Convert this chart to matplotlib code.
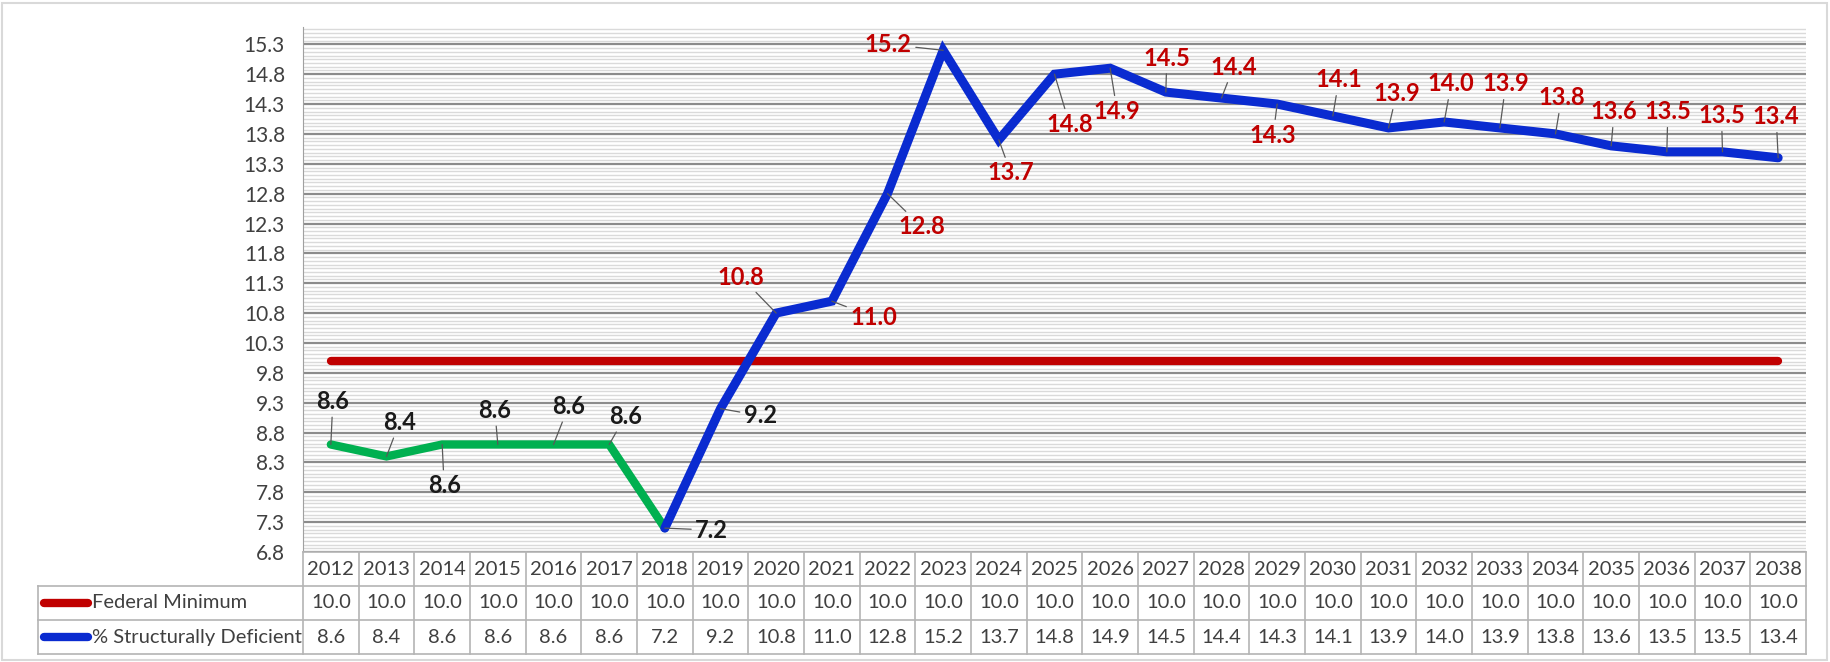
import numpy as np
import matplotlib
matplotlib.use("Agg")
import matplotlib.pyplot as plt
from matplotlib.patches import Rectangle

plt.rcParams['font.family'] = ['Lato', 'DejaVu Sans']

# Data
years = list(range(2012, 2039))
federal_minimum = [10.0] * 27
structurally_deficient = [8.6, 8.4, 8.6, 8.6, 8.6, 8.6, 7.2, 9.2, 10.8, 11.0, 12.8, 15.2, 13.7,
                          14.8, 14.9, 14.5, 14.4, 14.3, 14.1, 13.9, 14.0, 13.9, 13.8, 13.6, 13.5,
                          13.5, 13.4]
series_names = ['Federal Minimum', '% Structurally Deficient']
y_ticks = np.arange(6.8, 15.31, 0.5)

# label offsets in pixels (dx, dy, up is positive)
label_offsets = [(2, 43), (13, 34), (2, -41), (-3, 34), (15, 38), (16, 28), (47, -2), (40, -7),
                 (-35, 36), (42, -16), (34, -33), (-55, 6), (12, -33), (15, -50), (7, -43),
                 (1, 34), (12, 31), (-4, -31), (6, 36), (8, 34), (7, 38), (6, 44), (6, 36),
                 (3, 34), (1, 40), (-1, 36), (-2, 41)]

W, H = 1830, 662
fig = plt.figure(figsize=(W / 100, H / 100), dpi=100)
fig.patches.append(Rectangle((2 / W, 2 / H), 1 - 5 / W, 1 - 5 / H, transform=fig.transFigure,
                             fill=False, edgecolor='#d9d9d9', lw=1.5))

ax_l, ax_r, ax_top, ax_bot = 303, 1806, 27, 552
ax = fig.add_axes([ax_l / W, (H - ax_bot) / H, (ax_r - ax_l) / W, (ax_bot - ax_top) / H])
x = np.arange(len(years))

# gridlines
minor = np.arange(6.8, 15.6, 0.0625)
ax.set_yticks(minor, minor=True)
ax.set_yticks(y_ticks)
ax.set_yticklabels([f'{v:.1f}' for v in y_ticks], fontsize=15, color='#404040')
ax.tick_params(axis='y', which='both', length=0, pad=13)
ax.tick_params(axis='x', length=0, labelbottom=False)
ax.grid(axis='y', which='major', color='#8c8c8c', lw=1.6)
ax.grid(axis='y', which='minor', color='#dadada', lw=1.0)
ax.set_axisbelow(True)
for s in ['top', 'right', 'bottom']:
    ax.spines[s].set_visible(False)
ax.spines['left'].set_color('#a0a0a0')
ax.set_xlim(-0.5, len(years) - 0.5)
ax.set_ylim(6.8, 15.59)

# lines
ax.plot(x, federal_minimum, color='#c00000', lw=6, solid_capstyle='round', zorder=3)
ax.plot(x[:7], structurally_deficient[:7], color='#00b050', lw=6, solid_capstyle='round',
        solid_joinstyle='miter', zorder=4)
ax.plot(x[6:], structurally_deficient[6:], color='#0a2bd0', lw=6.5, solid_capstyle='round',
        solid_joinstyle='miter', zorder=5)

# data labels
for i, v in enumerate(structurally_deficient):
    dx, dy = label_offsets[i]
    col = '#1a1a1a' if i < 8 else '#c00000'
    ax.annotate(f'{v:.1f}', (x[i], v), xytext=(dx, dy), textcoords='offset pixels',
                ha='center', va='center', fontsize=17, fontweight='bold', color=col,
                arrowprops=dict(arrowstyle='-', color='#595959', lw=0.9, shrinkA=1, shrinkB=0),
                zorder=6)

# data table
tb_bot = 654
ax_t = fig.add_axes([ax_l / W, (H - tb_bot) / H, (ax_r - ax_l) / W, (tb_bot - ax_bot) / H],
                    sharex=ax)
ax_t.axis('off')
ax_t.set_ylim(3, 0)
col_px = (ax_r - ax_l) / len(years)
left_x = -0.5 - (ax_l - 38) / col_px
grid_c = '#b4b4b4'
kw = dict(color=grid_c, lw=1.2, clip_on=False)
for k in range(len(years) + 1):
    ax_t.plot([k - 0.5, k - 0.5], [0, 3], **kw)
ax_t.plot([-0.5, len(years) - 0.5], [0, 0], **kw)
for r in [1, 2, 3]:
    ax_t.plot([left_x, len(years) - 0.5], [r, r], **kw)
ax_t.plot([left_x, left_x], [1, 3], **kw)

tfs = 14.5
for i, yr in enumerate(years):
    ax_t.text(i, 0.52, str(yr), ha='center', va='center', fontsize=tfs, color='#404040')
    ax_t.text(i, 1.5, f'{federal_minimum[i]:.1f}', ha='center', va='center', fontsize=tfs,
              color='#404040')
    ax_t.text(i, 2.52, f'{structurally_deficient[i]:.1f}', ha='center', va='center',
              fontsize=tfs, color='#404040')

icon_l = -0.5 - (ax_l - 44) / col_px
icon_r = -0.5 - (ax_l - 88) / col_px
text_x = -0.5 - (ax_l - 92) / col_px
for r, (name, c) in enumerate(zip(series_names, ['#c00000', '#0a2bd0'])):
    ax_t.plot([icon_l, icon_r], [r + 1.5, r + 1.5], color=c, lw=6, solid_capstyle='round',
              clip_on=False)
    ax_t.text(text_x, r + 1.5, name, ha='left', va='center', fontsize=tfs, color='#404040')

fig.savefig('out.png', dpi=100)
